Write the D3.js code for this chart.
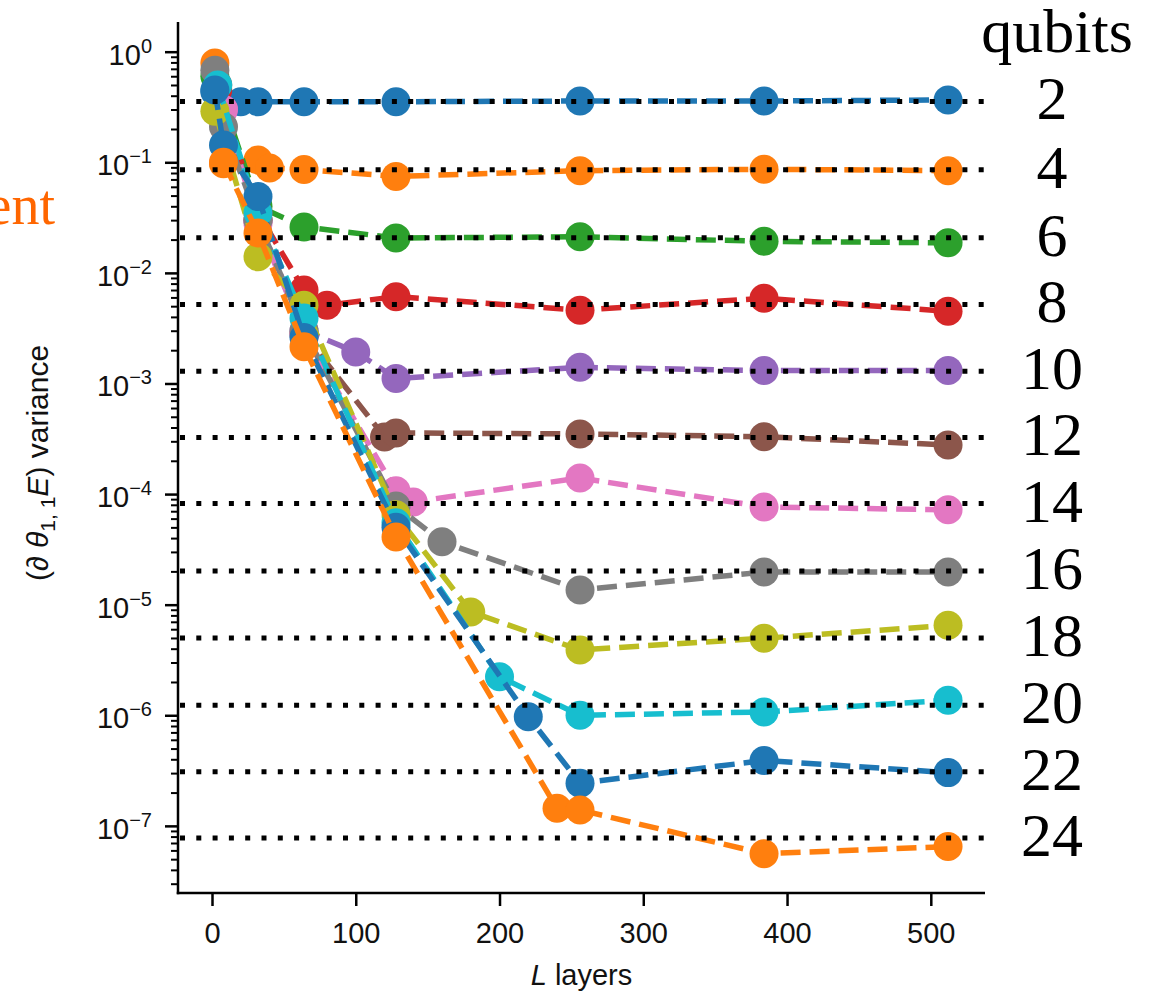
<!DOCTYPE html>
<html>
<head>
<meta charset="utf-8">
<script src="https://cdn.jsdelivr.net/npm/d3@7/dist/d3.min.js"></script>
<title>variance vs layers</title>
<style>
  body { margin: 0; background: #fff; }
  text { font-family: "Liberation Sans", Arial, sans-serif; }
  text.serif { font-family: "Liberation Serif", "Times New Roman", serif; }
</style>
</head>
<body>
<script>
// qubit counts and the level each one levels off at (dotted lines)
var qubits = [2, 4, 6, 8, 10, 12, 14, 16, 18, 20, 22, 24];
var plateau = [0.355, 0.0855, 0.0208, 0.00518, 0.00129, 3.25e-4, 8.2e-5, 2.02e-5, 5.0e-6, 1.23e-6, 3.08e-7, 7.75e-8];

// L layers and measured variance, one pair per qubit count
var layersQ2  = [2, 20, 32, 64, 128, 256, 384, 512];
var varQ2     = [0.435, 0.353, 0.353, 0.353, 0.353, 0.358, 0.358, 0.366];
var layersQ4  = [2, 8, 32, 40, 64, 128, 256, 384, 512];
var varQ4     = [0.79, 0.097, 0.105, 0.089, 0.086, 0.0745, 0.084, 0.0865, 0.084];
var layersQ6  = [2, 32, 64, 128, 256, 384, 512];
var varQ6     = [0.6, 0.04, 0.026, 0.0207, 0.0212, 0.0193, 0.0187];
var layersQ8  = [4, 32, 64, 80, 128, 256, 384, 512];
var varQ8     = [0.45, 0.035, 0.0070, 0.0051, 0.0061, 0.0046, 0.0059, 0.0045];
var layersQ10 = [8, 32, 64, 100, 128, 256, 384, 512];
var varQ10    = [0.3, 0.03, 0.003, 0.00193, 0.00111, 0.0014, 0.00131, 0.00131];
var layersQ12 = [4, 32, 64, 120, 128, 256, 384, 512];
var varQ12    = [0.5, 0.03, 0.0028, 3.28e-4, 3.57e-4, 3.5e-4, 3.3e-4, 2.78e-4];
var layersQ14 = [8, 32, 64, 128, 140, 256, 384, 512];
var varQ14    = [0.3, 0.028, 0.0028, 1.07e-4, 8.5e-5, 1.4e-4, 7.65e-5, 7.2e-5];
var layersQ16 = [2, 8, 32, 64, 128, 160, 256, 384, 512];
var varQ16    = [0.68, 0.21, 0.03, 0.003, 7.8e-5, 3.7e-5, 1.36e-5, 1.97e-5, 1.97e-5];
var layersQ18 = [2, 32, 64, 128, 180, 256, 384, 512];
var varQ18    = [0.29, 0.014, 0.0051, 6.5e-5, 8.6e-6, 3.9e-6, 4.97e-6, 6.5e-6];
var layersQ20 = [4, 32, 64, 128, 200, 256, 384, 512];
var varQ20    = [0.5, 0.035, 0.0039, 5.5e-5, 2.23e-6, 1.0e-6, 1.07e-6, 1.37e-6];
var layersQ22 = [2, 8, 32, 64, 128, 220, 256, 384, 512];
var varQ22    = [0.45, 0.143, 0.049, 0.0026, 5.0e-5, 9.7e-7, 2.43e-7, 3.9e-7, 3.03e-7];
var layersQ24 = [8, 32, 64, 128, 240, 256, 384, 512];
var varQ24    = [0.1, 0.023, 0.00215, 4.1e-5, 1.44e-7, 1.39e-7, 5.6e-8, 6.5e-8];

var allLayers = [layersQ2, layersQ4, layersQ6, layersQ8, layersQ10, layersQ12,
                 layersQ14, layersQ16, layersQ18, layersQ20, layersQ22, layersQ24];
var allVar = [varQ2, varQ4, varQ6, varQ8, varQ10, varQ12,
              varQ14, varQ16, varQ18, varQ20, varQ22, varQ24];

var xTicks = [0, 100, 200, 300, 400, 500];
var yTickExp = [0, -1, -2, -3, -4, -5, -6, -7];

var colors = ["#1f77b4", "#ff7f0e", "#2ca02c", "#d62728", "#9467bd", "#8c564b",
              "#e377c2", "#7f7f7f", "#bcbd22", "#17becf"];

var W = 1151, H = 994;
var axL = 178, axR = 985, axT = 22, axB = 893;

var svg = d3.select("body").append("svg")
    .attr("width", W)
    .attr("height", H);

var x = d3.scaleLinear().domain([-23.65, 537.7]).range([axL, axR]);
var y = d3.scaleLog().domain([Math.pow(10, -7.607), Math.pow(10, 0.2685)]).range([axB, axT]);

var line = d3.line()
    .x(function(d) { return x(d[0]); })
    .y(function(d) { return y(d[1]); });

// each series: dashed line then its markers, drawn in order
qubits.forEach(function(q, i) {
    var pts = allLayers[i].map(function(L, j) { return [L, allVar[i][j]]; });
    var c = colors[i % colors.length];
    var g = svg.append("g");
    g.append("path")
        .datum(pts)
        .attr("d", line)
        .attr("fill", "none")
        .attr("stroke", c)
        .attr("stroke-width", 5.5)
        .attr("stroke-dasharray", "20,9");
    g.selectAll("circle")
        .data(pts)
        .enter()
        .append("circle")
        .attr("cx", function(d) { return x(d[0]); })
        .attr("cy", function(d) { return y(d[1]); })
        .attr("r", 14.5)
        .attr("fill", c);
});

// dotted plateau lines sit on top
svg.selectAll(".plateau")
    .data(plateau)
    .enter()
    .append("line")
    .attr("class", "plateau")
    .attr("x1", axL + 2)
    .attr("x2", axR)
    .attr("y1", function(d) { return y(d); })
    .attr("y2", function(d) { return y(d); })
    .attr("stroke", "#000")
    .attr("stroke-width", 5)
    .attr("stroke-dasharray", "5,11.3");

// axes
var xAxis = svg.append("g")
    .attr("transform", "translate(0," + axB + ")")
    .call(d3.axisBottom(x).tickValues(xTicks).tickSize(13).tickPadding(16));
xAxis.select(".domain").remove();
xAxis.selectAll("line").attr("stroke-width", 2.5);
xAxis.selectAll("text").attr("font-size", 29).attr("fill", "#111");

var majors = yTickExp.map(function(e) { return Math.pow(10, e); });
var minors = [];
for (var e = -8; e <= 0; e++) {
    for (var k = 2; k <= 9; k++) {
        var v = k * Math.pow(10, e);
        if (v > y.domain()[0] && v < y.domain()[1]) minors.push(v);
    }
}
var yMinor = svg.append("g")
    .attr("transform", "translate(" + axL + ",0)")
    .call(d3.axisLeft(y).tickValues(minors).tickSize(7).tickFormat(""));
yMinor.select(".domain").remove();
yMinor.selectAll("line").attr("stroke-width", 2);

var yMajor = svg.append("g")
    .attr("transform", "translate(" + axL + ",0)")
    .call(d3.axisLeft(y).tickValues(majors).tickSize(13).tickFormat(""));
yMajor.select(".domain").remove();
yMajor.selectAll("line").attr("stroke-width", 2.5);

var yLab = svg.selectAll(".ylab")
    .data(yTickExp)
    .enter()
    .append("text")
    .attr("class", "ylab")
    .attr("x", 152)
    .attr("y", function(d) { return y(Math.pow(10, d)) + 13; })
    .attr("text-anchor", "end")
    .attr("font-size", 29)
    .attr("fill", "#111");
yLab.append("tspan").text("10");
yLab.append("tspan")
    .attr("dy", -12)
    .attr("font-size", 20)
    .text(function(d) { return d === 0 ? "0" : "\u2212" + (-d); });

// spines
svg.append("line").attr("x1", axL).attr("x2", axL).attr("y1", axT).attr("y2", axB + 1.25)
    .attr("stroke", "#000").attr("stroke-width", 2.5);
svg.append("line").attr("x1", axL - 1.25).attr("x2", axR).attr("y1", axB).attr("y2", axB)
    .attr("stroke", "#000").attr("stroke-width", 2.5);

// axis titles
var xt = svg.append("text")
    .attr("x", (axL + axR) / 2)
    .attr("y", 985)
    .attr("text-anchor", "middle")
    .attr("font-size", 29)
    .attr("fill", "#111");
xt.append("tspan").attr("font-style", "italic").text("L");
xt.append("tspan").text(" layers");

var yt = svg.append("text")
    .attr("transform", "translate(48,463) rotate(-90)")
    .attr("text-anchor", "middle")
    .attr("font-size", 30)
    .attr("fill", "#111");
yt.append("tspan").text("(\u2202 ");
yt.append("tspan").attr("font-style", "italic").text("\u03b8");
yt.append("tspan").attr("font-size", 21).attr("dy", 7).text("1, 1");
yt.append("tspan").attr("font-style", "italic").attr("dy", -7).text("E");
yt.append("tspan").text(") variance");

// qubit labels on the right
svg.append("text")
    .attr("class", "serif")
    .attr("x", 1057)
    .attr("y", 52)
    .attr("text-anchor", "middle")
    .attr("font-size", 62)
    .attr("fill", "#000")
    .text("qubits");

svg.selectAll(".qlab")
    .data(qubits)
    .enter()
    .append("text")
    .attr("class", "qlab serif")
    .attr("x", 1052)
    .attr("y", function(d, i) { return y(plateau[i]) + 18; })
    .attr("text-anchor", "middle")
    .attr("font-size", 62)
    .attr("fill", "#000")
    .text(function(d) { return d; });

// cut-off word at the left edge
svg.append("text")
    .attr("class", "serif")
    .attr("x", 55)
    .attr("y", 224)
    .attr("text-anchor", "end")
    .attr("font-size", 56)
    .attr("fill", "#ff6600")
    .text("ent");
</script>
</body>
</html>
